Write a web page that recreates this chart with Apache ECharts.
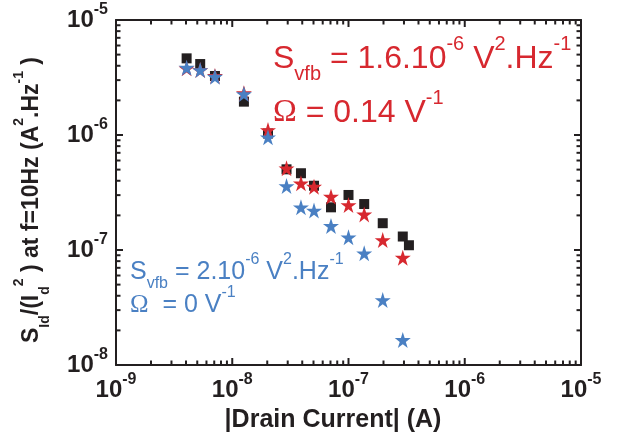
<!DOCTYPE html>
<html><head><meta charset="utf-8">
<script src="https://cdn.jsdelivr.net/npm/echarts@6/dist/echarts.min.js"></script>
<style>html,body{margin:0;padding:0;background:#fff}#c{width:618px;height:443px}</style>
</head><body><div id="c"></div>
<script>
// ---- data ----
const currentBlack = [4.05e-9, 5.3e-9, 7.1e-9, 1.26e-8, 2.03e-8, 2.93e-8, 3.9e-8, 5.05e-8, 7.07e-8, 1.0e-7, 1.365e-7, 1.97e-7, 2.93e-7, 3.31e-7];
const noiseBlack   = [4.64e-6, 4.14e-6, 3.26e-6, 1.95e-6, 1.03e-6, 5.03e-7, 4.65e-7, 3.62e-7, 2.35e-7, 3.01e-7, 2.51e-7, 1.71e-7, 1.31e-7, 1.10e-7];
const currentStars = [4.05e-9, 5.3e-9, 7.1e-9, 1.26e-8, 2.03e-8, 2.93e-8, 3.9e-8, 5.05e-8, 7.07e-8, 1.0e-7, 1.365e-7, 1.97e-7, 2.93e-7];
const noiseRed     = [3.80e-6, 3.67e-6, 3.26e-6, 2.31e-6, 1.105e-6, 5.13e-7, 3.80e-7, 3.55e-7, 2.91e-7, 2.46e-7, 2.04e-7, 1.22e-7, 8.57e-8];
const noiseBlue    = [3.85e-6, 3.67e-6, 3.21e-6, 2.27e-6, 9.55e-7, 3.60e-7, 2.35e-7, 2.20e-7, 1.62e-7, 1.29e-7, 9.36e-8, 3.67e-8, 1.65e-8];
const xTickExps = ['-9', '-8', '-7', '-6', '-5'];
const yTickExps = ['-8', '-7', '-6', '-5'];
const xRange = [1e-9, 1e-5];
const yRange = [1e-8, 1e-5];
const minorMantissas = [2, 3, 4, 5, 6, 7, 8, 9];

const INK = '#231f20', RED = '#d7282f', BLUE = '#4a80c3';
const FONT = 'Liberation Sans';
const STAR = 'path://M100,0 L122.45,69.1 L195.11,69.1 L136.33,111.8 L158.78,180.9 L100,138.2 L41.22,180.9 L63.67,111.8 L4.89,69.1 L77.55,69.1 Z';

const zip = (a, b) => a.map((v, i) => [v, b[i]]);

// tick positions: [value, length]
const xTicks = [], yTicks = [];
xTickExps.forEach((e, i) => {
  const p = Math.pow(10, Number(e));
  xTicks.push([p, 7]);
  if (i < xTickExps.length - 1) minorMantissas.forEach(m => xTicks.push([m * p, 4.5]));
});
yTickExps.forEach((e, i) => {
  const p = Math.pow(10, Number(e));
  yTicks.push([p, 7]);
  if (i < yTickExps.length - 1) minorMantissas.forEach(m => yTicks.push([m * p, 4.5]));
});
const TW = 2; // tick thickness
// tick marks drawn as small rect symbols placed through the axis scales
const tickSeries = (items) => ({
  type: 'scatter', silent: true, z: 2, clip: false, symbol: 'rect',
  itemStyle: {color: INK, opacity: 1}, data: items
});
const bottomTicks = xTicks.map(([v, l]) => ({value: [v, yRange[0]], symbolSize: [TW, l], symbolOffset: [0, -l / 2]}));
const topTicks    = xTicks.map(([v, l]) => ({value: [v, yRange[1]], symbolSize: [TW, l], symbolOffset: [0, l / 2]}));
const leftTicks   = yTicks.map(([v, l]) => ({value: [xRange[0], v], symbolSize: [l, TW], symbolOffset: [l / 2, 0]}));
const rightTicks  = yTicks.map(([v, l]) => ({value: [xRange[1], v], symbolSize: [l, TW], symbolOffset: [-l / 2, 0]}));

const tickRich = {
  b: {fontSize: 24, fontWeight: 'bold', fontFamily: FONT, color: INK, lineHeight: 36},
  s: {fontSize: 16, fontWeight: 'bold', fontFamily: FONT, color: INK, lineHeight: 15, verticalAlign: 'top'}
};
const axisLineStyle = {color: INK, width: 2};
const baseAxis = (pos, range) => ({
  type: 'log', logBase: 10, min: range[0], max: range[1], position: pos,
  axisLine: {show: true, onZero: false, lineStyle: axisLineStyle},
  axisTick: {show: false},
  splitLine: {show: false}, minorTick: {show: false}
});

function richText(x, y, text, rich, extra) {
  return Object.assign({type: 'text', x: x, y: y, silent: true,
    style: {text: text, rich: rich, align: 'left', verticalAlign: 'top'}}, extra || {});
}
function mk(size, color, lh, opts) {
  return Object.assign({fontSize: size, fontFamily: FONT, fill: color, color: color, lineHeight: lh}, opts || {});
}
const redRich = {
  m: mk(32, RED, 50), o: mk(32, RED, 50, {fontFamily: 'Liberation Serif'}),
  u: mk(20, RED, 12, {verticalAlign: 'bottom'}),
  p: mk(20, RED, 26, {verticalAlign: 'top'}),
  q: mk(20, RED, 23, {verticalAlign: 'top'})
};
const blueRich = {
  m: mk(25, BLUE, 40), o: mk(25, BLUE, 40, {fontFamily: 'Liberation Serif'}),
  u: mk(16, BLUE, 15, {verticalAlign: 'bottom'}),
  p: mk(16, BLUE, 26, {verticalAlign: 'top'}),
  q: mk(16, BLUE, 30, {verticalAlign: 'top'})
};
const yNameRich = {
  m: mk(23, INK, 40, {fontWeight: 'bold'}),
  u: mk(14, INK, 17, {fontWeight: 'bold', verticalAlign: 'bottom'}),
  p: mk(14, INK, 13, {fontWeight: 'bold', verticalAlign: 'top'})
};

const chart = echarts.init(document.getElementById('c'), null, {renderer: 'canvas'});
chart.setOption({
  backgroundColor: '#fff',
  animation: false,
  grid: {left: 116, top: 20, right: 37, bottom: 78},
  xAxis: [
    Object.assign(baseAxis('bottom', xRange), {
      axisLabel: {margin: 7, formatter: (v, i) => '{b|10}{s|' + xTickExps[i] + '}', rich: tickRich}
    }),
    Object.assign(baseAxis('top', xRange), {axisLabel: {show: false}})
  ],
  yAxis: [
    Object.assign(baseAxis('left', yRange), {
      axisLabel: {margin: 8, formatter: (v, i) => '{b|10}{s|' + yTickExps[i] + '}', rich: tickRich}
    }),
    Object.assign(baseAxis('right', yRange), {axisLabel: {show: false}})
  ],
  series: [
    tickSeries(bottomTicks), tickSeries(topTicks), tickSeries(leftTicks), tickSeries(rightTicks),
    {type: 'scatter', name: 'measured', symbol: 'rect', symbolSize: 10,
      itemStyle: {color: INK, opacity: 1}, data: zip(currentBlack, noiseBlack), z: 3},
    {type: 'scatter', name: 'model CMF', symbol: STAR, symbolSize: 16,
      itemStyle: {color: RED, opacity: 1}, data: zip(currentStars, noiseRed), z: 4},
    {type: 'scatter', name: 'model CNF', symbol: STAR, symbolSize: 16,
      itemStyle: {color: BLUE, opacity: 1}, data: zip(currentStars, noiseBlue), z: 5}
  ],
  graphic: [
    richText(273, 34, '{m|S}{u|vfb}{m| = 1.6.10}{p|-6}{m| V}{p|2}{m|.Hz}{p|-1}', redRich),
    richText(273, 88, '{o|Ω}{m| = 0.14 V}{q|-1}', redRich),
    richText(130, 252, '{m|S}{u|vfb}{m| = 2.10}{p|-6}{m| V}{p|2}{m|.Hz}{p|-1}', blueRich),
    richText(130, 285, '{o|Ω}{m|  = 0 V}{q|-1}', blueRich),
    {type: 'text', x: 333, y: 420, silent: true,
      style: {text: '|Drain Current| (A)', font: 'bold 25px "Liberation Sans"', fill: INK, align: 'center', verticalAlign: 'middle'}},
    {type: 'text', x: 32, y: 200, rotation: Math.PI / 2, silent: true,
      style: {text: '{m|S}{u|Id}{m|/(I}{u|d}{p|2}{m| ) at f=10Hz (A}{p|2}{m|.Hz}{p|-1}{m| )}',
        rich: yNameRich, align: 'center', verticalAlign: 'middle'}}
  ]
});
</script>
</body></html>
